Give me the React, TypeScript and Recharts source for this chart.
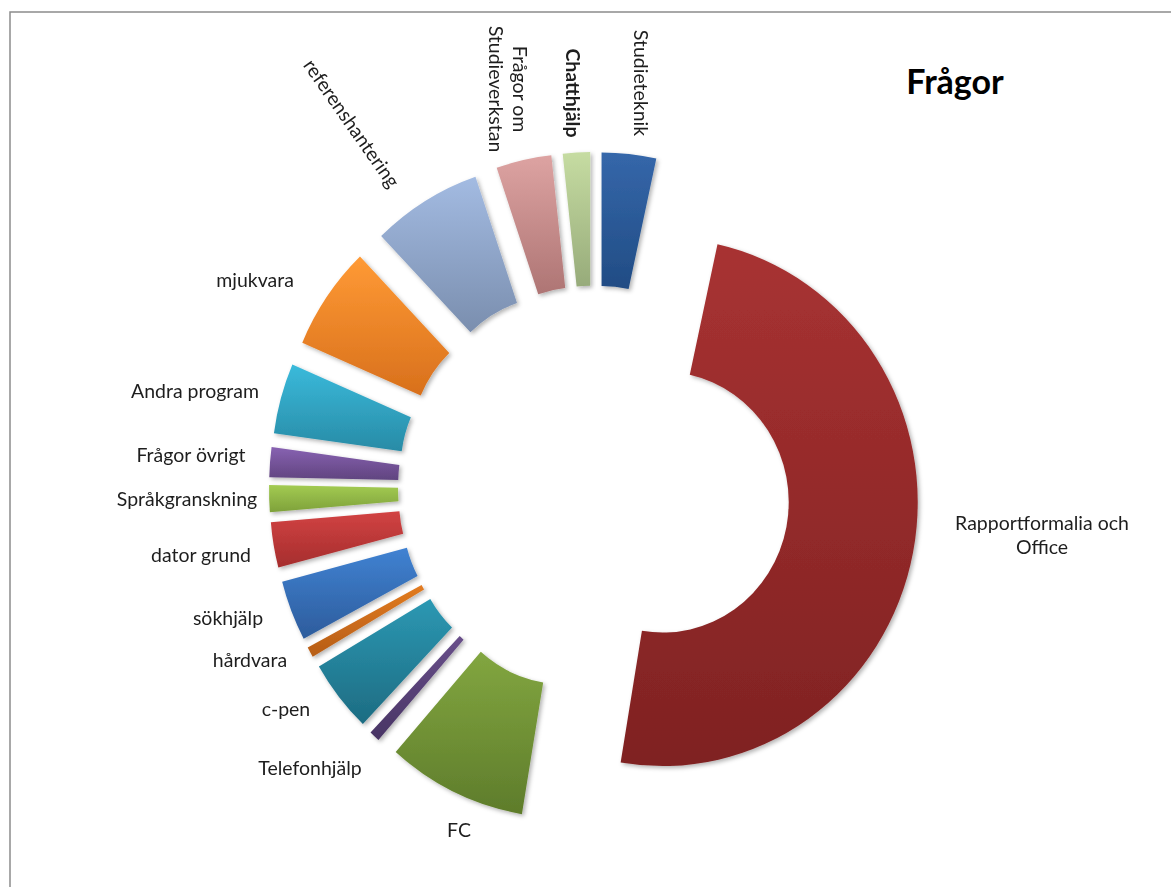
import { PieChart, Pie, Cell, Sector } from "recharts";

// clockwise from 12 o'clock, values read as slice angles
const categories = [
  "Studieteknik",
  "Rapportformalia och Office",
  "FC",
  "Telefonhjälp",
  "c-pen",
  "hårdvara",
  "sökhjälp",
  "dator grund",
  "Språkgranskning",
  "Frågor övrigt",
  "Andra program",
  "mjukvara",
  "referenshantering",
  "Frågor om Studieverkstan",
  "Chatthjälp",
];
const values = [12.4, 177.1, 31.8, 2.4, 16, 2.3, 13.3, 10, 5.9, 6.6, 15.5, 22.9, 25, 12.6, 6.2];

const topColors = [
  "#3567aa", "#a83232", "#82a640", "#684f8a", "#2c98b3", "#e27b20", "#4082d2", "#d24343",
  "#a3cb52", "#8862b2", "#3abadb", "#ff9a35", "#a3bbe2", "#dda3a2", "#c6dca2",
];
const bottomColors = [
  "#214c84", "#7f2222", "#5e7c2b", "#483464", "#1d6c82", "#b65d17", "#2d5c9c", "#a52d2d",
  "#7ea13a", "#60447f", "#288ba6", "#d8701c", "#7a8eae", "#ae7574", "#97ab7a",
];

const labelLayout = [
  { x: 641, y: 83, rotate: 90, lines: ["Studieteknik"] },
  { x: 1042, y: 535, rotate: 0, lines: ["Rapportformalia  och", "Office"] },
  { x: 459, y: 830, rotate: 0, lines: ["FC"] },
  { x: 310, y: 768, rotate: 0, lines: ["Telefonhjälp"] },
  { x: 286, y: 708, rotate: 0, lines: ["c-pen"] },
  { x: 250, y: 660, rotate: 0, lines: ["hårdvara"] },
  { x: 228, y: 618, rotate: 0, lines: ["sökhjälp"] },
  { x: 201, y: 555, rotate: 0, lines: ["dator grund"] },
  { x: 187, y: 498, rotate: 0, lines: ["Språkgranskning"] },
  { x: 191, y: 455, rotate: 0, lines: ["Frågor övrigt"] },
  { x: 195, y: 390, rotate: 0, lines: ["Andra program"] },
  { x: 255, y: 280, rotate: 0, lines: ["mjukvara"] },
  { x: 352, y: 123, rotate: 55, lines: ["referenshantering"] },
  { x: 508, y: 89, rotate: 90, lines: ["Frågor om", "Studieverkstan"] },
  { x: 573, y: 93, rotate: 90, lines: ["Chatthjälp"], bold: true },
];

const data = categories.map((name, i) => ({ name, value: values[i] }));

const W = 1171;
const H = 887;
const EXPLODE = 70;
const RAD = Math.PI / 180;
const FONT = "Lato, 'Open Sans', sans-serif";
// the original picture is slightly stretched vertically
const STRETCH = 1.035;
const STRETCH_Y0 = 625;

function ExplodedSector(props: any) {
  const { cx, cy, innerRadius, outerRadius, startAngle, endAngle, fill } = props;
  const mid = props.midAngle ?? (startAngle + endAngle) / 2;
  const dx = EXPLODE * Math.cos(-mid * RAD);
  const dy = EXPLODE * Math.sin(-mid * RAD);
  return (
    <Sector
      cx={cx + dx}
      cy={cy + dy}
      innerRadius={innerRadius}
      outerRadius={outerRadius}
      startAngle={startAngle}
      endAngle={endAngle}
      fill={fill}
      stroke="none"
      filter="url(#sliceShadow)"
    />
  );
}

function renderLabel(props: any) {
  const l = labelLayout[props.index];
  if (!l) return null;
  const lh = 24;
  const first = -((l.lines.length - 1) * lh) / 2;
  const y = STRETCH_Y0 + (l.y - STRETCH_Y0) / STRETCH;
  return (
    <text
      transform={`translate(${l.x},${y}) scale(1,${1 / STRETCH}) rotate(${l.rotate})`}
      textAnchor="middle"
      fill="#1e1e1e"
      fontSize={19.5}
      fontFamily={FONT}
      fontWeight={l.bold ? 700 : 400}
    >
      {l.lines.map((t, i) => (
        <tspan key={i} x={0} y={first + i * lh} dominantBaseline="central">
          {t}
        </tspan>
      ))}
    </text>
  );
}

export default function App() {
  return (
    <div style={{ position: "absolute", left: 0, top: 0, width: W, height: H, background: "#fff", overflow: "hidden" }}>
      <div style={{ transform: `scaleY(${STRETCH})`, transformOrigin: `0px ${STRETCH_Y0}px` }}>
        <PieChart width={W} height={H} margin={{ top: 0, right: 0, bottom: 0, left: 0 }}>
          <defs>
            {topColors.map((c, i) => (
              <linearGradient key={i} id={`grad-${i}`} x1="0" y1="0" x2="0" y2="1">
                <stop offset="0%" stopColor={c} />
                <stop offset="100%" stopColor={bottomColors[i]} />
              </linearGradient>
            ))}
            <filter id="sliceShadow" x="-20%" y="-20%" width="140%" height="140%">
              <feDropShadow dx="2" dy="2" stdDeviation="2" floodColor="#000" floodOpacity="0.3" />
            </filter>
          </defs>
          <Pie
            data={data}
            dataKey="value"
            nameKey="name"
            cx={594}
            cy={493}
            innerRadius={126}
            outerRadius={255}
            startAngle={90}
            endAngle={-270}
            stroke="none"
            shape={ExplodedSector}
            label={renderLabel}
            labelLine={false}
            isAnimationActive={false}
          >
            {data.map((d, i) => (
              <Cell key={d.name} fill={`url(#grad-${i})`} />
            ))}
          </Pie>
        </PieChart>
      </div>
      <svg
        width={W}
        height={H}
        style={{ position: "absolute", left: 0, top: 0, pointerEvents: "none" }}
      >
        <rect x={10} y={12} width={W + 20} height={H + 20} fill="none" stroke="#8c8c8c" strokeWidth={1.5} />
        <text x={955} y={80} textAnchor="middle" dominantBaseline="central" fontSize={34} fontWeight={700} fontFamily={FONT} fill="#000">
          Frågor
        </text>
      </svg>
    </div>
  );
}
